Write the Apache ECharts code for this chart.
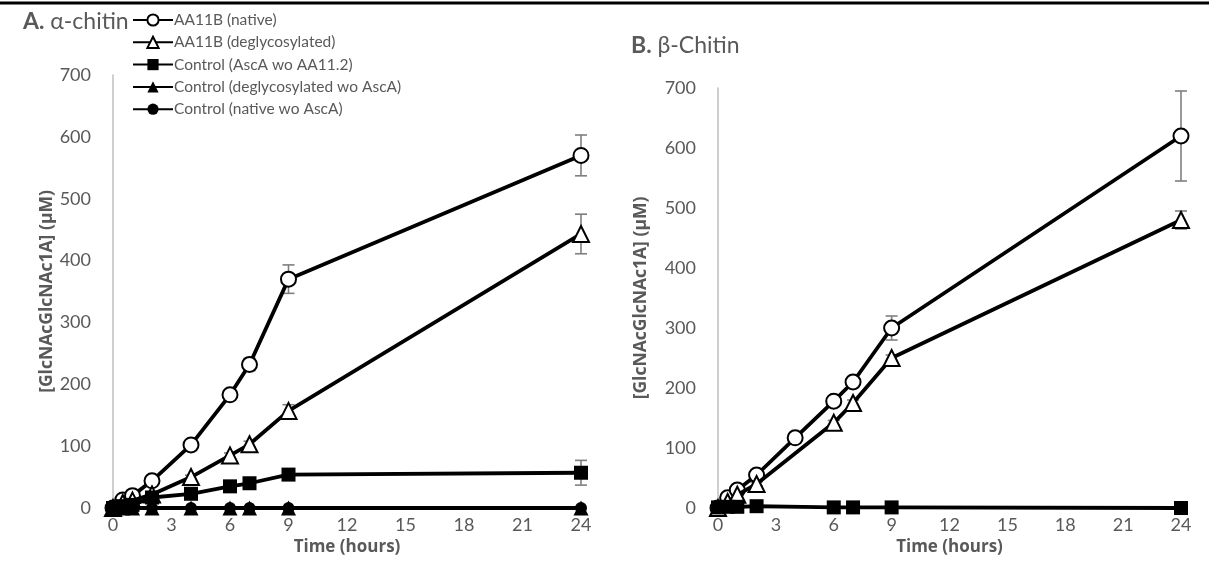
<!DOCTYPE html>
<html><head><meta charset="utf-8">
<script src="https://cdn.jsdelivr.net/npm/echarts@6/dist/echarts.min.js"></script>
<style>html,body{margin:0;padding:0;background:#fff}#c{width:1209px;height:578px}</style>
</head><body><div id="c"></div>
<script>
// ---------- data ----------
const seriesNames = ['AA11B (native)','AA11B (deglycosylated)','Control (AscA wo AA11.2)','Control (deglycosylated wo AscA)','Control (native wo AscA)'];
const xTicks = [0,3,6,9,12,15,18,21,24];
const yTicks = [0,100,200,300,400,500,600,700];

// Panel A: alpha-chitin
const aTimes      = [0, 0.5, 1, 2, 4, 6, 7, 9, 24];
const aNative     = [0, 13, 20, 44, 102, 183, 232, 370, 570];
const aNativeErr  = [0, 2, 2, 3, 4, 5, 10, 23, 33];
const aDegly      = [0, 8, 12, 22, 50, 85, 103, 157, 443];
const aDeglyErr   = [0, 2, 2, 2, 3, 4, 5, 10, 32];
const aAscA       = [0, 3, 5, 17, 23, 35, 40, 54, 57];
const aAscAErr    = [0, 1, 1, 2, 2, 3, 3, 3, 20];
const aDeglyNoAsc = [0, 0, 0, 0, 0, 0, 0, 0, 0];
const aNativeNoAsc= [0, 0, 0, 0, 0, 0, 0, 0, 0];

// Panel B: beta-chitin
const bTimesNative = [0, 0.5, 1, 2, 4, 6, 7, 9, 24];
const bNative      = [0, 17, 30, 55, 117, 178, 210, 300, 620];
const bNativeErr   = [0, 2, 3, 4, 4, 5, 5, 20, 75];
const bTimes       = [0, 0.5, 1, 2, 6, 7, 9, 24];
const bDegly       = [0, 10, 22, 40, 142, 175, 250, 480];
const bDeglyErr    = [0, 2, 2, 3, 4, 5, 5, 15];
const bAscA        = [1, 2, 2, 3, 1, 1, 1, 0];

// ---------- helpers ----------
const FONT = 'Lato';
const BOLDFONT = 'Open Sans';
const GREY = '#595959';
const pairs = (xs, ys) => xs.map((x, i) => [x, ys[i]]);
const triples = (xs, ys, es) => xs.map((x, i) => [x, ys[i], es[i]]);

const markerStyles = [
  {symbol:'circle', symbolSize:15, itemStyle:{color:'#fff', borderColor:'#000', borderWidth:2}},
  {symbol:'triangle', symbolSize:16, itemStyle:{color:'#fff', borderColor:'#000', borderWidth:2}},
  {symbol:'rect', symbolSize:14, itemStyle:{color:'#000', borderColor:'#000', borderWidth:0}},
  {symbol:'triangle', symbolSize:15, itemStyle:{color:'#000', borderColor:'#000', borderWidth:0}},
  {symbol:'circle', symbolSize:12, itemStyle:{color:'#000', borderColor:'#000', borderWidth:0}}
];

function lineSeries(idx, grid, data) {
  const m = markerStyles[idx];
  return {
    type:'line', name:seriesNames[idx], xAxisIndex:grid, yAxisIndex:grid,
    data, symbol:m.symbol, symbolSize:m.symbolSize, itemStyle:m.itemStyle,
    lineStyle:{color:'#000', width:3.8}, showSymbol:true, clip:false,
    z: 3 + idx, animation:false, emphasis:{disabled:true}
  };
}

let errCount = 0;
function errSeries(grid, data) {
  errCount++;
  return {
    type:'custom', name:'errorbars' + errCount, xAxisIndex:grid, yAxisIndex:grid,
    data, z:2, animation:false, silent:true, clip:false,
    renderItem(params, api) {
      const x = api.value(0), y = api.value(1), e = api.value(2);
      if (!e) return null;
      const top = api.coord([x, y + e]);
      const bot = api.coord([x, y - e]);
      const cw = 6;
      const st = {stroke:'#7f7f7f', lineWidth:1.6};
      return {type:'group', children:[
        {type:'line', shape:{x1:top[0], y1:top[1], x2:bot[0], y2:bot[1]}, style:st},
        {type:'line', shape:{x1:top[0]-cw, y1:top[1], x2:top[0]+cw, y2:top[1]}, style:st},
        {type:'line', shape:{x1:bot[0]-cw, y1:bot[1], x2:bot[0]+cw, y2:bot[1]}, style:st}
      ]};
    }
  };
}

function xAxis(grid) {
  return {
    type:'value', gridIndex:grid, min:0, max:24, interval:3,
    name:'Time (hours)', nameLocation:'middle', nameGap:29,
    nameTextStyle:{fontFamily:BOLDFONT, fontWeight:'bold', fontSize:17, color:GREY},
    axisLine:{show:true, lineStyle:{color:'#d9d9d9', width:1}},
    axisTick:{show:false}, splitLine:{show:false},
    axisLabel:{fontFamily:FONT, fontSize:18, color:GREY, margin:8,
      formatter: v => xTicks.includes(v) ? String(v) : ''}
  };
}
function yAxis(grid, gap) {
  return {
    type:'value', gridIndex:grid, min:0, max:700, interval:100,
    name:'[GlcNAcGlcNAc1A] (μM)', nameLocation:'middle', nameGap:gap, nameRotate:90,
    nameTextStyle:{fontFamily:BOLDFONT, fontWeight:'bold', fontSize:17.5, color:GREY},
    axisLine:{show:true, lineStyle:{color:'#bfbfbf', width:1.5}},
    axisTick:{show:false}, splitLine:{show:false},
    axisLabel:{fontFamily:FONT, fontSize:18, color:GREY, margin:22,
      formatter: v => yTicks.includes(v) ? String(v) : ''}
  };
}

const titleStyle = {fontFamily:FONT, fontSize:23, color:GREY, fontWeight:'normal',
  rich:{b:{fontFamily:FONT, fontSize:23, fontWeight:'bold', color:GREY}}};

const option = {
  backgroundColor:'#fff',
  animation:false,
  grid:[
    {left:113, top:75, width:468, height:433},
    {left:718, top:88, width:463, height:420}
  ],
  xAxis:[xAxis(0), xAxis(1)],
  yAxis:[yAxis(0, 57), yAxis(1, 68)],
  title:[
    {text:'{b|A.} α-chitin', left:18, top:5, textStyle:titleStyle},
    {text:'{b|B.} β-Chitin', left:626, top:29, textStyle:titleStyle}
  ],
  legend:{
    data:seriesNames, orient:'vertical', left:127, top:7,
    itemWidth:40, itemHeight:14, itemGap:6.3,
    textStyle:{fontFamily:FONT, fontSize:15.5, color:GREY, padding:[0,0,0,-4]},
    selectedMode:false
  },
  graphic:[
    {type:'line', shape:{x1:0, y1:3, x2:1209, y2:3}, style:{stroke:'#000', lineWidth:3}, silent:true}
  ],
  series:[
    errSeries(0, triples(aTimes, aNative, aNativeErr)),
    errSeries(0, triples(aTimes, aDegly, aDeglyErr)),
    errSeries(0, triples(aTimes, aAscA, aAscAErr)),
    lineSeries(0, 0, pairs(aTimes, aNative)),
    lineSeries(1, 0, pairs(aTimes, aDegly)),
    lineSeries(2, 0, pairs(aTimes, aAscA)),
    lineSeries(3, 0, pairs(aTimes, aDeglyNoAsc)),
    lineSeries(4, 0, pairs(aTimes, aNativeNoAsc)),
    errSeries(1, triples(bTimesNative, bNative, bNativeErr)),
    errSeries(1, triples(bTimes, bDegly, bDeglyErr)),
    lineSeries(0, 1, pairs(bTimesNative, bNative)),
    lineSeries(1, 1, pairs(bTimes, bDegly)),
    lineSeries(2, 1, pairs(bTimes, bAscA))
  ]
};
const chart = echarts.init(document.getElementById('c'), null, {renderer:'canvas'});
chart.setOption(option);
</script></body></html>
